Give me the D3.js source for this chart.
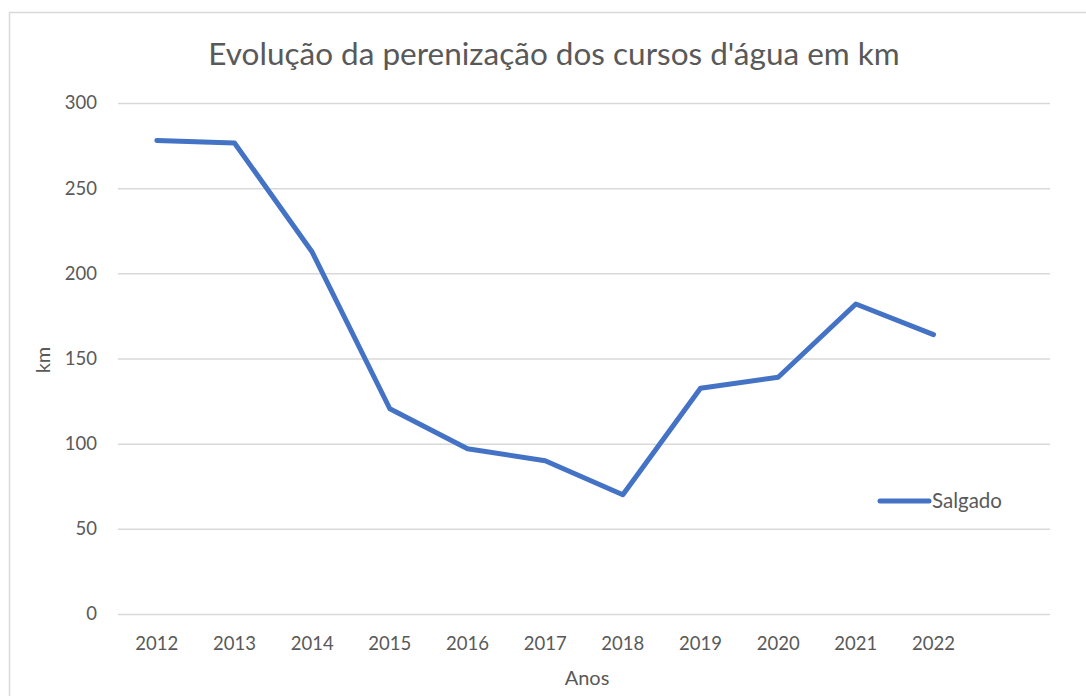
<!DOCTYPE html>
<html>
<head>
<meta charset="UTF-8">
<title>Evolução da perenização dos cursos d'água em km</title>
<script src="https://d3js.org/d3.v7.min.js"></script>
<style>
  body { margin: 0; background: #fff; }
  .chart text { font-family: Lato, "Open Sans", sans-serif; fill: #595959; }
  .grid line { stroke: #d9d9d9; stroke-width: 1.5; }
  .grid path { stroke-width: 0; }
</style>
</head>
<body>
<svg class="chart" width="1086" height="696"></svg>
<script>
// data
var years = ["2012","2013","2014","2015","2016","2017","2018","2019","2020","2021","2022",""];
var salgado = [278, 276.5, 212.5, 120.5, 97, 90, 70, 132.5, 139, 182, 164];
var yTicks = [0, 50, 100, 150, 200, 250, 300];

var svg = d3.select(".chart"),
    margin = {top: 103, right: 36, bottom: 82, left: 118},
    width = +svg.attr("width") - margin.left - margin.right,
    height = +svg.attr("height") - margin.top - margin.bottom;

// outer frame
svg.append("rect")
  .attr("x", 9.5).attr("y", 12.5)
  .attr("width", 1090).attr("height", 700)
  .attr("fill", "none").attr("stroke", "#d9d9d9").attr("stroke-width", 1.5);

var g = svg.append("g").attr("transform", "translate(" + margin.left + "," + margin.top + ")");

var x = d3.scaleBand().domain(years).range([0, width]);
var y = d3.scaleLinear().domain([0, 300]).range([height, 0]);

//------------------------------------------------------------------
// gridlines
g.append("g")
  .attr("class", "grid")
  .call(d3.axisLeft(y).tickValues(yTicks).tickSize(-width).tickFormat(""));

// y labels
g.append("g").selectAll("text")
  .data(yTicks)
  .enter().append("text")
    .attr("x", -21)
    .attr("y", function(d) { return y(d); })
    .attr("dy", "0.35em")
    .attr("text-anchor", "end")
    .attr("font-size", 18.5)
    .text(function(d) { return d; });

// x labels
g.append("g").selectAll("text")
  .data(years)
  .enter().append("text")
    .attr("x", function(d) { return x(d) + x.bandwidth() / 2; })
    .attr("y", height + 36)
    .attr("text-anchor", "middle")
    .attr("font-size", 18.5)
    .text(function(d) { return d; });

//------------------------------------------------------------------
// line
var line = d3.line()
  .x(function(d, i) { return x(years[i]) + x.bandwidth() / 2; })
  .y(function(d) { return y(d); });

g.append("path")
  .datum(salgado)
  .attr("fill", "none")
  .attr("stroke", "#4472c4")
  .attr("stroke-width", 5)
  .attr("stroke-linejoin", "round")
  .attr("stroke-linecap", "round")
  .attr("d", line);

//------------------------------------------------------------------
// titles
svg.append("text")
  .attr("x", 554).attr("y", 65)
  .attr("text-anchor", "middle")
  .attr("font-size", 31.5)
  .text("Evolução da perenização dos cursos d'água em km");

svg.append("text")
  .attr("x", 587).attr("y", 685)
  .attr("text-anchor", "middle")
  .attr("font-size", 20)
  .text("Anos");

svg.append("text")
  .attr("transform", "translate(50,360) rotate(-90)")
  .attr("text-anchor", "middle")
  .attr("font-size", 20)
  .text("km");

// legend
var leg = svg.append("g").attr("transform", "translate(880,501)");
leg.append("line")
  .attr("x1", 0).attr("x2", 49)
  .attr("stroke", "#4472c4").attr("stroke-width", 5).attr("stroke-linecap", "round");
leg.append("text")
  .attr("x", 52).attr("dy", "0.35em")
  .attr("font-size", 20.5)
  .text("Salgado");
</script>
</body>
</html>
